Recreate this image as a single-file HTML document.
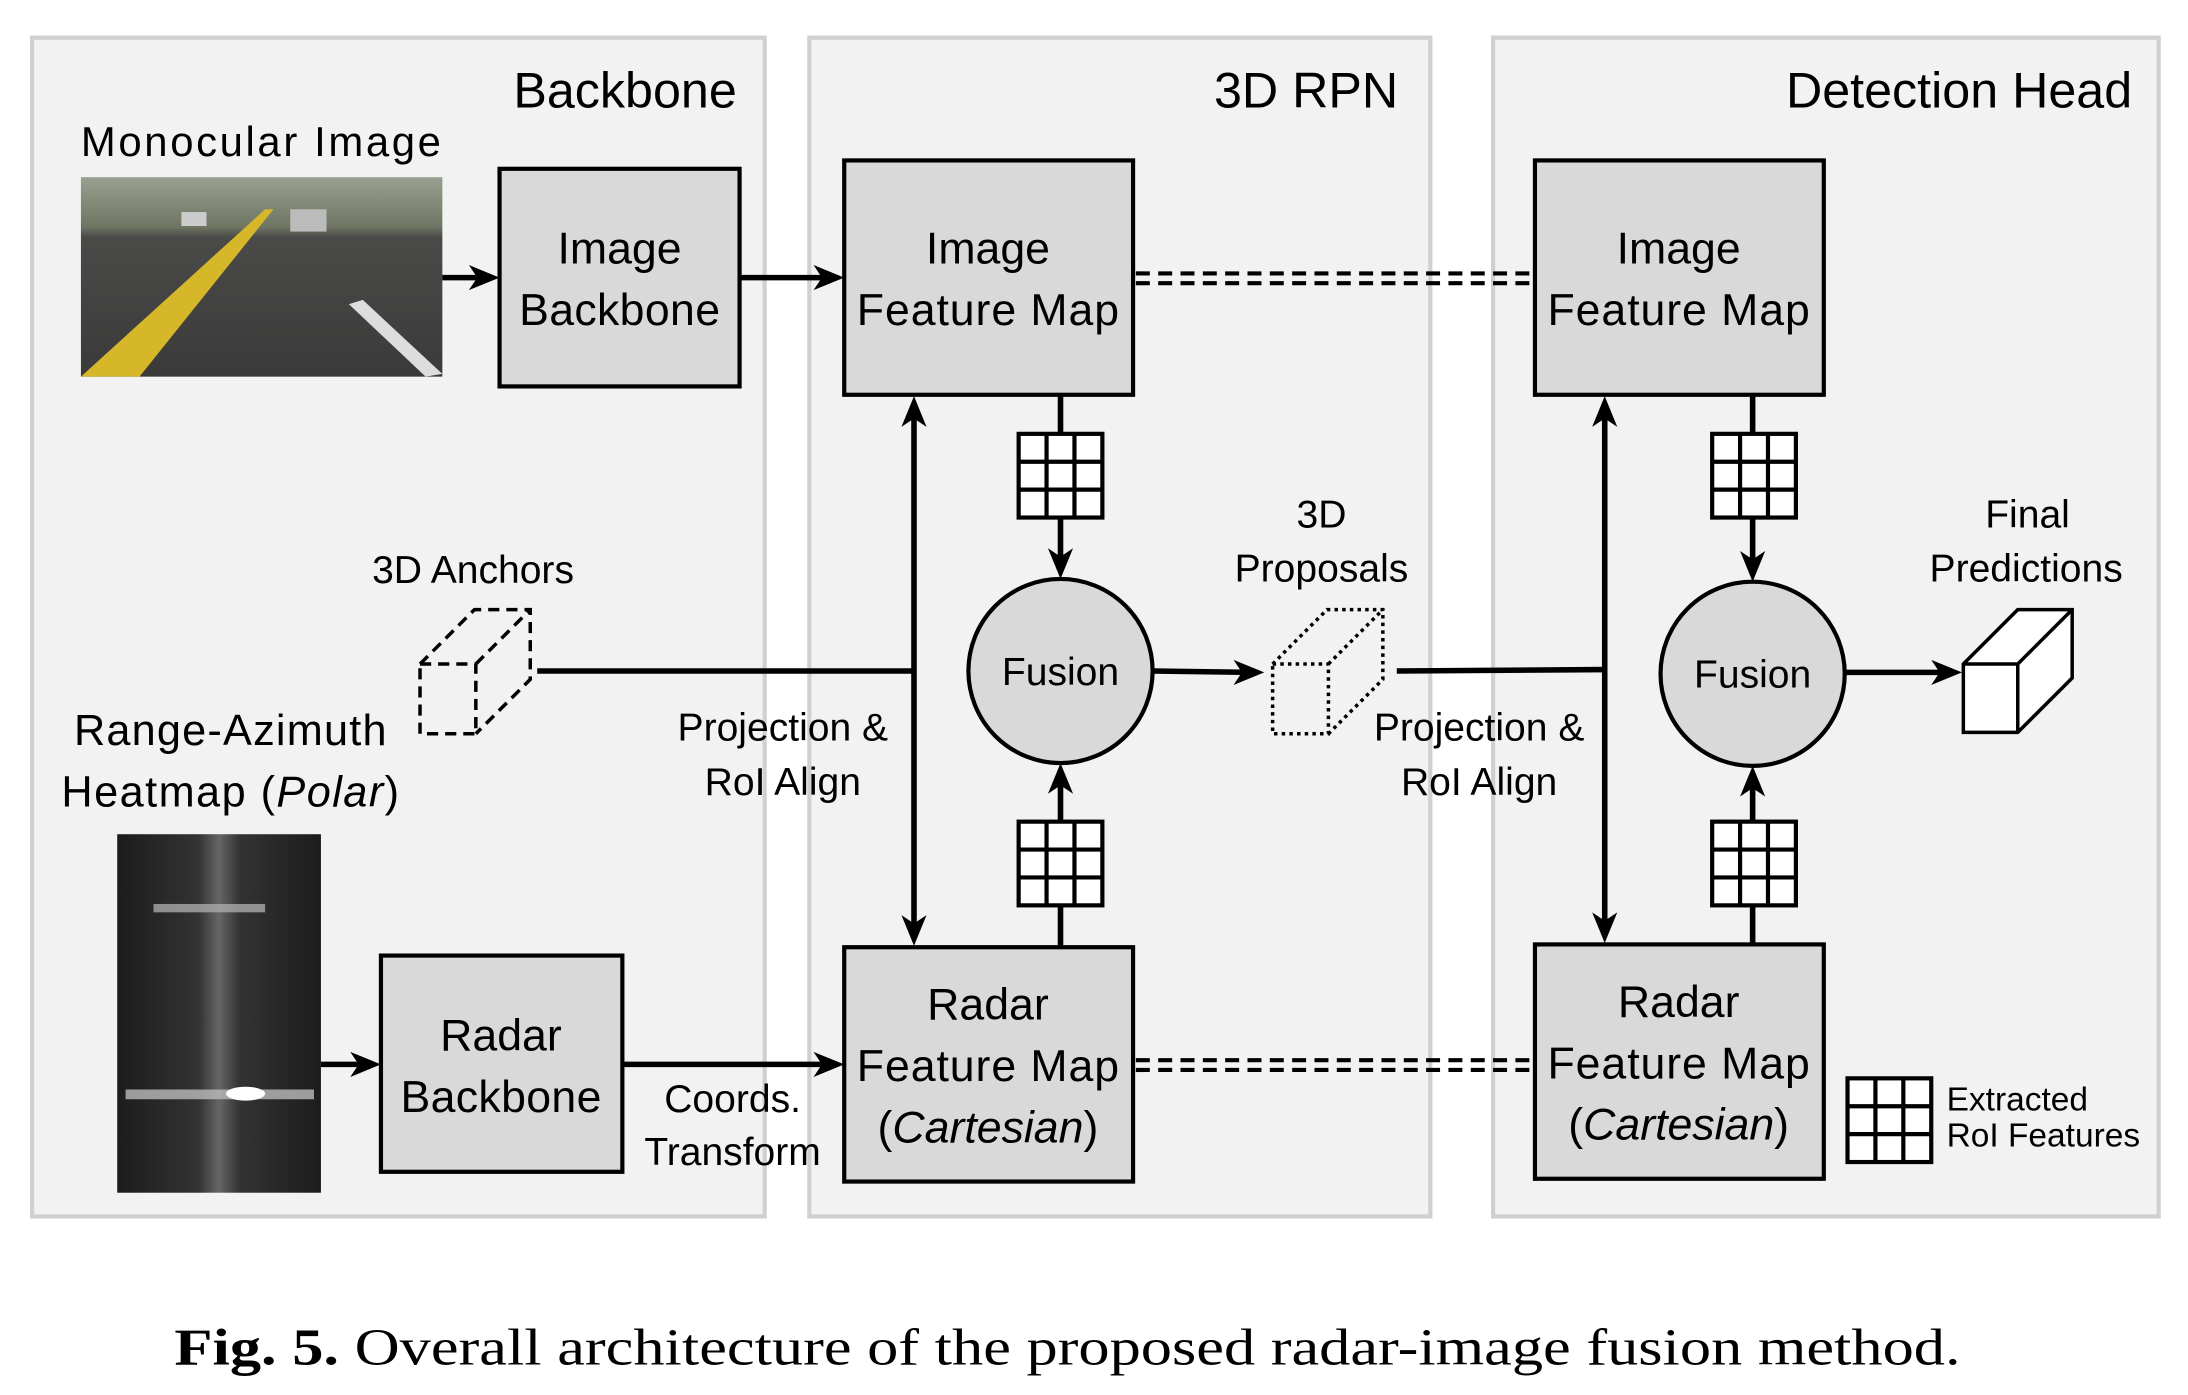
<!DOCTYPE html>
<html><head><meta charset="utf-8"><style>
html,body{margin:0;padding:0;background:#fff;}
svg{display:block;}
text{font-family:"Liberation Sans",sans-serif;fill:#000;}
</style></head><body>
<svg width="2188" height="1395" viewBox="0 0 1568 1000" preserveAspectRatio="none" xmlns="http://www.w3.org/2000/svg">
<defs>
<linearGradient id="sky" x1="0" y1="0" x2="0" y2="1">
<stop offset="0" stop-color="#9aa08f"/><stop offset="0.25" stop-color="#6f7563"/><stop offset="0.3" stop-color="#4a4a48"/><stop offset="1" stop-color="#3a3a3a"/>
</linearGradient>
<linearGradient id="hm" x1="0" y1="0" x2="1" y2="0">
<stop offset="0" stop-color="#1c1c1c"/><stop offset="0.4" stop-color="#333"/><stop offset="0.5" stop-color="#666"/><stop offset="0.6" stop-color="#333"/><stop offset="1" stop-color="#1c1c1c"/>
</linearGradient>
<g id="grid">
<rect x="0" y="0" width="60" height="60" fill="#fff" stroke="#000" stroke-width="3"/>
<path d="M20,0V60M40,0V60M0,20H60M0,40H60" stroke="#000" stroke-width="3"/>
</g>
</defs>
<rect x="23" y="27" width="525" height="845" fill="#f2f2f2" stroke="#d0d0d0" stroke-width="3"/>
<rect x="580" y="27" width="445" height="845" fill="#f2f2f2" stroke="#d0d0d0" stroke-width="3"/>
<rect x="1070" y="27" width="477" height="845" fill="#f2f2f2" stroke="#d0d0d0" stroke-width="3"/>
<g font-size="36">
<text x="528" y="77" text-anchor="end">Backbone</text>
<text x="1002" y="77" text-anchor="end">3D RPN</text>
<text x="1528" y="77" text-anchor="end">Detection Head</text>
</g>
<text x="58" y="112" font-size="30" textLength="258">Monocular Image</text>
<rect x="58" y="127" width="259" height="143" fill="url(#sky)"/>
<path d="M58,270 L190,150 L196,150 L100,270Z" fill="#d6b72a"/>
<path d="M260,215 L317,268 L305,270 L250,218Z" fill="#ddd"/>
<rect x="130" y="152" width="18" height="10" fill="#ccc"/>
<rect x="208" y="150" width="26" height="16" fill="#bbb"/>
<rect x="84" y="598" width="146" height="257" fill="url(#hm)"/>
<rect x="110" y="648" width="80" height="6" fill="#aaa" opacity="0.8"/>
<rect x="90" y="781" width="135" height="7" fill="#bbb" opacity="0.8"/>
<ellipse cx="176" cy="784" rx="14" ry="5" fill="#fff"/>
<g fill="#d9d9d9" stroke="#000" stroke-width="3">
<rect x="358" y="121" width="172" height="156"/>
<rect x="605" y="115" width="207" height="168"/>
<rect x="1100" y="115" width="207" height="168"/>
<rect x="273" y="685" width="173" height="155"/>
<rect x="605" y="679" width="207" height="168"/>
<rect x="1100" y="677" width="207" height="168"/>
<circle cx="760" cy="481" r="66"/>
<circle cx="1256" cy="483" r="66"/>
</g>
<g font-size="32" text-anchor="middle">
<text x="444" y="189">Image</text><text x="444" y="233" textLength="144">Backbone</text>
<text x="708" y="189">Image</text><text x="708" y="233" textLength="188">Feature Map</text>
<text x="1203" y="189">Image</text><text x="1203" y="233" textLength="188">Feature Map</text>
<text x="359" y="753">Radar</text><text x="359" y="797" textLength="144">Backbone</text>
<text x="708" y="731">Radar</text><text x="708" y="775" textLength="188">Feature Map</text><text x="708" y="819">(<tspan font-style="italic">Cartesian</tspan>)</text>
<text x="1203" y="729">Radar</text><text x="1203" y="773" textLength="188">Feature Map</text><text x="1203" y="817">(<tspan font-style="italic">Cartesian</tspan>)</text>
</g>
<g font-size="28" text-anchor="middle">
<text x="760" y="491">Fusion</text>
<text x="1256" y="493">Fusion</text>
</g>
<use href="#grid" x="730" y="311"/>
<use href="#grid" x="730" y="589"/>
<use href="#grid" x="1227" y="311"/>
<use href="#grid" x="1227" y="589"/>
<use href="#grid" x="1324" y="773"/>
<g stroke="#000" stroke-width="4" fill="none">
<line x1="317" y1="199" x2="350" y2="199"/>
<line x1="530" y1="199" x2="597" y2="199"/>
<line x1="230" y1="763" x2="265" y2="763"/>
<line x1="446" y1="763" x2="597" y2="763"/>
<line x1="760" y1="283" x2="760" y2="311"/>
<line x1="760" y1="371" x2="760" y2="405"/>
<line x1="760" y1="679" x2="760" y2="649"/>
<line x1="760" y1="589" x2="760" y2="557"/>
<line x1="1256" y1="283" x2="1256" y2="311"/>
<line x1="1256" y1="371" x2="1256" y2="407"/>
<line x1="1256" y1="677" x2="1256" y2="649"/>
<line x1="1256" y1="589" x2="1256" y2="559"/>
<line x1="655" y1="291" x2="655" y2="671"/>
<line x1="1150" y1="291" x2="1150" y2="669"/>
<line x1="385" y1="481" x2="655" y2="481"/>
<line x1="826" y1="481" x2="897" y2="482"/>
<line x1="1001" y1="481" x2="1150" y2="480"/>
<line x1="1322" y1="482" x2="1397" y2="482"/>
</g>
<g fill="#000">
<path d="M358,199 L336,190 L342,199 L336,208Z"/>
<path d="M605,199 L583,190 L589,199 L583,208Z"/>
<path d="M273,763 L251,754 L257,763 L251,772Z"/>
<path d="M605,763 L583,754 L589,763 L583,772Z"/>
<path d="M906,482 L884,473 L890,482 L884,491Z"/>
<path d="M1406,482 L1384,473 L1390,482 L1384,491Z"/>
<path d="M760,415 L751,393 L760,399 L769,393Z"/>
<path d="M1256,417 L1247,395 L1256,401 L1265,395Z"/>
<path d="M760,547 L751,569 L760,563 L769,569Z"/>
<path d="M1256,549 L1247,571 L1256,565 L1265,571Z"/>
<path d="M655,284 L646,306 L655,300 L664,306Z"/>
<path d="M655,678 L646,656 L655,662 L664,656Z"/>
<path d="M1150,284 L1141,306 L1150,300 L1159,306Z"/>
<path d="M1150,676 L1141,654 L1150,660 L1159,654Z"/>
</g>
<g stroke="#000" stroke-width="3" stroke-dasharray="10,6">
<line x1="814" y1="196" x2="1100" y2="196"/><line x1="814" y1="203" x2="1100" y2="203"/>
<line x1="814" y1="760" x2="1100" y2="760"/><line x1="814" y1="767" x2="1100" y2="767"/>
</g>
<g fill="none" stroke="#000" stroke-width="2.5" stroke-dasharray="8,5">
<path d="M301,476 H341 V526 H301 Z M301,476 L340,437 H380 V487 L341,526 M341,476 L380,437"/>
</g>
<g fill="none" stroke="#000" stroke-width="2.5" stroke-dasharray="2.5,3">
<path d="M912,476 H952 V526 H912 Z M912,476 L951,437 H991 V487 L952,526 M952,476 L991,437"/>
</g>
<g fill="#fff" stroke="#000" stroke-width="2.5">
<path d="M1407,476 L1446,437 H1485 V486 L1446,525 H1407 Z"/>
<path d="M1407,476 H1446 V525 M1446,476 L1485,437" fill="none"/>
</g>
<g font-size="28" text-anchor="middle">
<text x="339" y="418">3D Anchors</text>
<text x="165" y="534" font-size="31" textLength="224">Range-Azimuth</text>
<text x="165" y="578" font-size="31" textLength="242">Heatmap (<tspan font-style="italic">Polar</tspan>)</text>
<text x="561" y="531">Projection &amp;</text><text x="561" y="570">RoI Align</text>
<text x="1060" y="531">Projection &amp;</text><text x="1060" y="570">RoI Align</text>
<text x="947" y="378">3D</text><text x="947" y="417">Proposals</text>
<text x="1453" y="378">Final</text><text x="1452" y="417">Predictions</text>
<text x="525" y="797">Coords.</text><text x="525" y="835">Transform</text>
</g>
<text x="1395" y="796" font-size="24">Extracted</text>
<text x="1395" y="822" font-size="24">RoI Features</text>
<text x="125" y="978" font-size="37" style="font-family:'Liberation Serif',serif" textLength="1280" lengthAdjust="spacingAndGlyphs"><tspan font-weight="bold">Fig. 5.</tspan> Overall architecture of the proposed radar-image fusion method.</text>
</svg>
</body></html>
